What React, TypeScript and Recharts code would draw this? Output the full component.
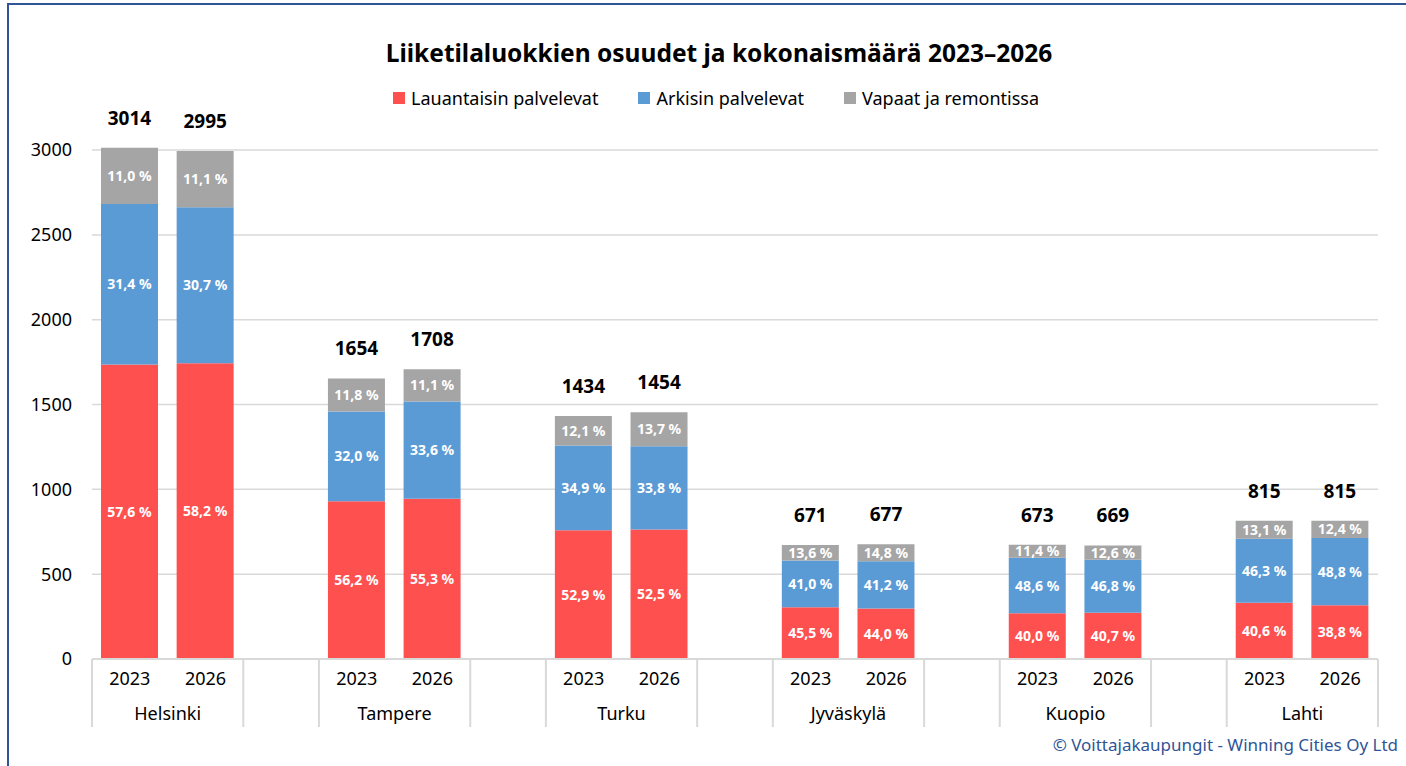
import { BarChart, Bar, XAxis, YAxis, CartesianGrid, LabelList } from "recharts";

const CITIES = ["Helsinki", "Tampere", "Turku", "Jyväskylä", "Kuopio", "Lahti"];
const YEARS = ["2023", "2026"];

// totals per city, [2023, 2026]
const TOTALS = [
  [3014, 2995],
  [1654, 1708],
  [1434, 1454],
  [671, 677],
  [673, 669],
  [815, 815],
];

// shares in %, [2023, 2026]
const SATURDAY = [
  [57.6, 58.2],
  [56.2, 55.3],
  [52.9, 52.5],
  [45.5, 44.0],
  [40.0, 40.7],
  [40.6, 38.8],
];
const WEEKDAY = [
  [31.4, 30.7],
  [32.0, 33.6],
  [34.9, 33.8],
  [41.0, 41.2],
  [48.6, 46.8],
  [46.3, 48.8],
];
const VACANT = [
  [11.0, 11.1],
  [11.8, 11.1],
  [12.1, 13.7],
  [13.6, 14.8],
  [11.4, 12.6],
  [13.1, 12.4],
];

const Y_TICKS = [0, 500, 1000, 1500, 2000, 2500, 3000];

const SERIES = [
  { key: "saturday", name: "Lauantaisin palvelevat", color: "#FF5050", shares: SATURDAY },
  { key: "weekday", name: "Arkisin palvelevat", color: "#5B9BD5", shares: WEEKDAY },
  { key: "vacant", name: "Vapaat ja remontissa", color: "#A5A5A5", shares: VACANT },
];

const FONT = "'Noto Sans', 'Open Sans', sans-serif";
const GRID = "#D9D9D9";

// one row per bar, an empty row between cities
const rows: any[] = [];
CITIES.forEach((city, ci) => {
  YEARS.forEach((year, yi) => {
    const row: any = { id: `${city} ${year}`, city, year, total: TOTALS[ci][yi] };
    SERIES.forEach((s) => {
      row[s.key] = (TOTALS[ci][yi] * s.shares[ci][yi]) / 100;
      row[s.key + "Pct"] = s.shares[ci][yi];
    });
    rows.push(row);
  });
  if (ci < CITIES.length - 1) rows.push({ id: `gap-${ci}`, city: "", year: "" });
});

const CHART_W = 1406;
const CHART_H = 766;
const MARGIN = { top: 145, right: 28, bottom: 37, left: 22 };
const Y_W = 70;
const PLOT_W = CHART_W - MARGIN.left - MARGIN.right - Y_W;
const SLOT = PLOT_W / rows.length;

const fmtPct = (v: any) => (v == null ? "" : `${Number(v).toFixed(1).replace(".", ",")} %`);

const AxisTick = (props: any) => {
  const { x, y, index } = props;
  const row = rows[index];
  if (!row) return null;
  const left = x - SLOT / 2;
  const startsGroup = row.year === "" || row.year === YEARS[0];
  const last = index === rows.length - 1;
  return (
    <g>
      {startsGroup && <line x1={left} x2={left} y1={y} y2={y + 68} stroke={GRID} strokeWidth={2} />}
      {last && <line x1={x + SLOT / 2} x2={x + SLOT / 2} y1={y} y2={y + 68} stroke={GRID} strokeWidth={2} />}
      <text x={x} y={y + 26} textAnchor="middle" fontSize={18} fill="#000" fontFamily={FONT}>
        {row.year}
      </text>
      {row.year === YEARS[0] && (
        <text x={x + SLOT / 2} y={y + 61} textAnchor="middle" fontSize={18} fill="#000" fontFamily={FONT}>
          {row.city}
        </text>
      )}
    </g>
  );
};

export default function App() {
  return (
    <div
      style={{
        position: "absolute",
        left: 0,
        top: 0,
        width: CHART_W,
        height: CHART_H,
        overflow: "hidden",
        background: "#fff",
        fontFamily: FONT,
      }}
    >
      <div
        style={{
          position: "absolute",
          left: 7,
          top: 3,
          width: 1440,
          height: 800,
          border: "2px solid #2F5597",
        }}
      />
      <div
        style={{
          position: "absolute",
          left: 0,
          width: 1438,
          top: 36,
          textAlign: "center",
          fontWeight: 700,
          fontSize: 24.5,
          color: "#000",
        }}
      >
        Liiketilaluokkien osuudet ja kokonaismäärä 2023–2026
      </div>
      <div
        style={{
          position: "absolute",
          left: 0,
          width: 1432,
          top: 86,
          display: "flex",
          justifyContent: "center",
          gap: 40,
          fontSize: 18,
          color: "#000",
        }}
      >
        {SERIES.map((s) => (
          <div key={s.key} style={{ display: "flex", alignItems: "center" }}>
            <span style={{ width: 12, height: 12, background: s.color, marginRight: 6, display: "inline-block" }} />
            <span>{s.name}</span>
          </div>
        ))}
      </div>
      <div style={{ position: "absolute", left: 0, top: 0 }}>
        <BarChart width={CHART_W} height={CHART_H} data={rows} margin={MARGIN} barSize={57}>
          <CartesianGrid vertical={false} stroke={GRID} strokeWidth={1.5} horizontalValues={Y_TICKS} />
          <XAxis
            dataKey="id"
            interval={0}
            tick={<AxisTick />}
            tickLine={false}
            tickSize={0}
            tickMargin={0}
            height={70}
            axisLine={{ stroke: GRID, strokeWidth: 2 }}
          />
          <YAxis
            width={Y_W}
            domain={[0, 3030]}
            ticks={Y_TICKS}
            axisLine={false}
            tickLine={false}
            tickMargin={14}
            tick={{ fontSize: 18, fill: "#000", fontFamily: FONT }}
          />
          {SERIES.map((s, i) => (
            <Bar key={s.key} dataKey={s.key} name={s.name} stackId="a" fill={s.color} isAnimationActive={false}>
              <LabelList
                dataKey={s.key + "Pct"}
                position="center"
                formatter={fmtPct}
                fill="#fff"
                fontSize={14}
                fontWeight={700}
                fontFamily={FONT}
              />
              {i === SERIES.length - 1 && (
                <LabelList
                  dataKey="total"
                  position="top"
                  offset={23}
                  fill="#000"
                  fontSize={19}
                  fontWeight={700}
                  fontFamily={FONT}
                />
              )}
            </Bar>
          ))}
        </BarChart>
      </div>
      <div
        style={{
          position: "absolute",
          right: 8,
          top: 733,
          fontSize: 17,
          color: "#2F5597",
        }}
      >
        © Voittajakaupungit - Winning Cities Oy Ltd
      </div>
    </div>
  );
}
